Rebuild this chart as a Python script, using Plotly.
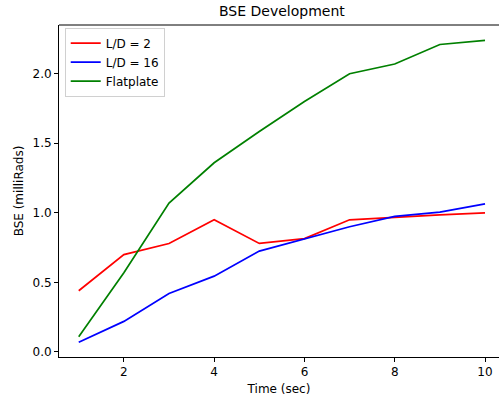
import plotly.graph_objects as go

time_sec = [1, 2, 3, 4, 5, 6, 7, 8, 9, 10]
ld2 = [0.44, 0.70, 0.78, 0.95, 0.78, 0.815, 0.95, 0.97, 0.985, 1.0]
ld16 = [0.07, 0.22, 0.42, 0.545, 0.725, 0.815, 0.90, 0.975, 1.005, 1.065]
flatplate = [0.11, 0.57, 1.07, 1.36, 1.585, 1.80, 2.00, 2.07, 2.21, 2.24]
series_names = ["L/D = 2", "L/D = 16", "Flatplate"]
series_colors = ["#ff0000", "#0000ff", "#008000"]
x_ticks = [2, 4, 6, 8, 10]
y_ticks = [0.0, 0.5, 1.0, 1.5, 2.0]
y_tick_labels = ["0.0", "0.5", "1.0", "1.5", "2.0"]

font = "DejaVu Sans"
fig = go.Figure()
for name, vals, col in zip(series_names, [ld2, ld16, flatplate], series_colors):
    fig.add_trace(go.Scatter(x=time_sec, y=vals, mode="lines", name=name,
                             line=dict(color=col, width=1.7)))

fig.update_layout(
    width=499, height=400,
    margin=dict(l=59, r=0, t=25, b=43),
    paper_bgcolor="white", plot_bgcolor="white",
    font=dict(family=font, size=12, color="#000000"),
    showlegend=True,
    legend=dict(x=0.013, y=0.992, xanchor="left", yanchor="top",
                bordercolor="#d0d0d0", borderwidth=1, bgcolor="rgba(255,255,255,0.8)",
                font=dict(family=font, size=12), tracegroupgap=0, itemwidth=30),
    xaxis=dict(range=[0.563, 10.31], tickvals=x_ticks, ticks="outside", ticklen=4,
               tickcolor="black", showline=True, linecolor="black", linewidth=1,
               showgrid=False, zeroline=False,
               title=dict(text="Time (sec)", font=dict(size=12), standoff=6)),
    yaxis=dict(range=[-0.036, 2.35], tickvals=y_ticks, ticktext=y_tick_labels,
               ticks="outside", ticklen=4, tickcolor="black", showline=True,
               linecolor="black", linewidth=1, showgrid=False, zeroline=False,
               title=dict(text="BSE (milliRads)", font=dict(size=12), standoff=6)),
    shapes=[dict(type="line", xref="paper", yref="paper", x0=0, x1=1, y0=1, y1=1,
                 line=dict(color="black", width=1))],
    annotations=[dict(text="BSE Development", xref="paper", yref="paper",
                      x=(282 - 59) / 440, y=1, xanchor="center", yanchor="bottom",
                      yshift=4, showarrow=False, font=dict(family=font, size=14))],
)

fig.write_html("out.html")
